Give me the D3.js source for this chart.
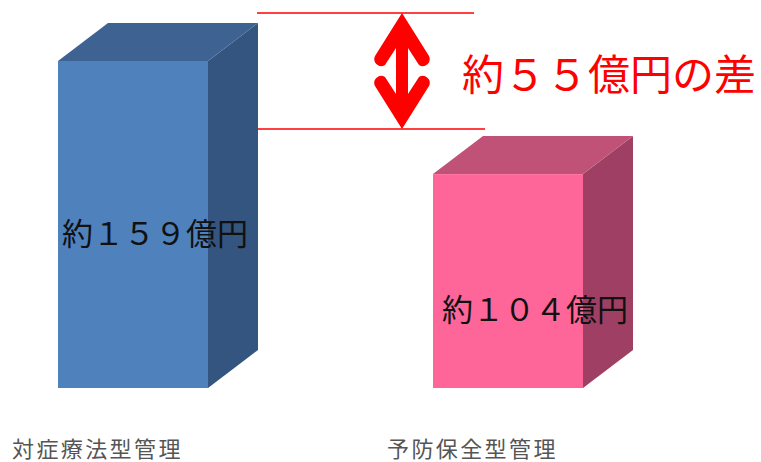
<!DOCTYPE html>
<html lang="ja">
<head>
<meta charset="utf-8">
<script src="https://cdn.jsdelivr.net/npm/d3@7"></script>
<style>
  html, body { margin: 0; padding: 0; background: #fff; }
  svg { display: block; font-family: "Noto Sans CJK JP", "Noto Sans", sans-serif; }
</style>
</head>
<body>
<div id="chart"></div>
<script>
/* 3D bar comparison: 対症療法型管理 vs 予防保全型管理 */
var categories = ['対症療法型管理', '予防保全型管理'];
var values = [159, 104];
var valueLabels = ['約１５９億円', '約１０４億円'];
var diffLabel = '約５５億円の差';

var palette = [
  { front: '#4F81BD', top: '#3E6392', side: '#34557F' },
  { front: '#FE6599', top: '#C05277', side: '#A03F64' }
];

(function () {
  'use strict';
  var W = 761, H = 462;
  var depthX = 50, depthY = -38;

  var svg = d3.select('#chart').append('svg')
    .attr('width', W).attr('height', H);

  var x = d3.scaleBand().domain(categories).range([58, 583])
    .paddingInner(0.6).paddingOuter(0);
  var y = d3.scaleLinear().domain([0, 159]).range([388, 61]);

  var bars = svg.selectAll('g.bar').data(categories).enter()
    .append('g').attr('class', 'bar');

  bars.each(function (c, i) {
    var g = d3.select(this);
    var x0 = x(c), x1 = x(c) + x.bandwidth();
    var yt = y(values[i]), yb = y(0);
    var col = palette[i];

    // right side face
    g.append('path')
      .attr('d', 'M' + x1 + ',' + yt + 'L' + (x1 + depthX) + ',' + (yt + depthY) +
        'L' + (x1 + depthX) + ',' + (yb + depthY) + 'L' + x1 + ',' + yb + 'Z')
      .attr('fill', col.side);
    // top face
    g.append('path')
      .attr('d', 'M' + x0 + ',' + yt + 'L' + (x0 + depthX) + ',' + (yt + depthY) +
        'L' + (x1 + depthX) + ',' + (yt + depthY) + 'L' + x1 + ',' + yt + 'Z')
      .attr('fill', col.top);
    // front face
    g.append('rect')
      .attr('x', x0).attr('y', yt)
      .attr('width', x.bandwidth()).attr('height', yb - yt)
      .attr('fill', col.front);

    // value label
    g.append('text')
      .attr('x', i === 0 ? x0 + 4 : x0 + 9).attr('y', i === 0 ? 231 : 307)
      .attr('dominant-baseline', 'central')
      .attr('font-size', 31).attr('fill', '#111')
      .text(valueLabels[i]);

    // category label
    g.append('text')
      .attr('x', x0 - 46).attr('y', 447)
      .attr('dominant-baseline', 'central')
      .attr('font-size', 22).attr('letter-spacing', 2.4)
      .attr('fill', '#555')
      .text(c);
  });

  // difference annotation
  var ann = svg.append('g').attr('class', 'diff');
  ann.append('line').attr('x1', 257).attr('x2', 474).attr('y1', 13).attr('y2', 13)
    .attr('stroke', '#FF0000').attr('stroke-width', 1.6);
  ann.append('line').attr('x1', 257).attr('x2', 485).attr('y1', 129).attr('y2', 129)
    .attr('stroke', '#FF0000').attr('stroke-width', 1.6);

  ann.append('path')
    .attr('d', 'M402,13 L429,56 A7,7 0 0 1 419,65 L408,48 L408,94 L419,77 ' +
      'A7,7 0 0 1 429,86 L402,129 L375,86 A7,7 0 0 1 385,77 L396,94 L396,48 ' +
      'L385,65 A7,7 0 0 1 375,56 Z')
    .attr('fill', '#FF0000');

  ann.append('text')
    .attr('x', 462).attr('y', 71)
    .attr('dominant-baseline', 'central')
    .attr('font-size', 42).attr('fill', '#FF0000')
    .text(diffLabel);
})();
</script>
</body>
</html>
